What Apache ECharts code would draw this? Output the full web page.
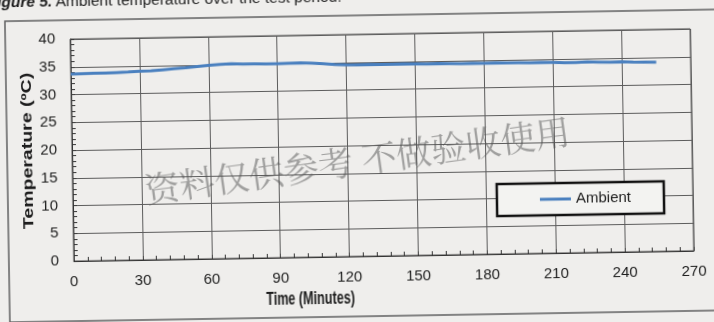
<!DOCTYPE html>
<html>
<head>
<meta charset="utf-8">
<script src="https://cdn.jsdelivr.net/npm/echarts@6/dist/echarts.min.js"></script>
<style>
  html, body { margin: 0; padding: 0; width: 714px; height: 322px; overflow: hidden; background: #efeeec; }
  /* canvas is a bit larger than the window so the tilted page edges stay filled */
  #chart { position: absolute; left: -20px; top: -20px; width: 754px; height: 362px;
           transform-origin: 402px 165px; transform: rotate(-0.95deg); }
</style>
</head>
<body>
<div id="chart"></div>
<script>
// Ambient temperature log, one reading every 5 minutes
const minutes = [
  0, 5, 10, 15, 20, 25, 30, 35, 40, 45, 50, 55, 60, 65, 70, 75, 80, 85, 90, 95,
  100, 105, 110, 115, 120, 125, 130, 135, 140, 145, 150, 155, 160, 165, 170, 175,
  180, 185, 190, 195, 200, 205, 210, 215, 220, 225, 230, 235, 240, 245, 250, 255
];
const ambient = [
  33.7, 33.75, 33.8, 33.8, 33.85, 33.9, 34.0, 34.05, 34.2, 34.35, 34.5, 34.7, 34.85, 35.0, 35.1, 35.0, 35.0, 34.95, 34.95, 35.0,
  35.05, 34.95, 34.8, 34.65, 34.55, 34.5, 34.55, 34.5, 34.5, 34.55, 34.5, 34.45, 34.5, 34.45, 34.4, 34.45,
  34.4, 34.45, 34.4, 34.4, 34.35, 34.4, 34.35, 34.3, 34.3, 34.35, 34.3, 34.25, 34.3, 34.2, 34.15, 34.1
];
const xTicks = [0, 30, 60, 90, 120, 150, 180, 210, 240, 270];
const yTicks = [0, 5, 10, 15, 20, 25, 30, 35, 40];

const seriesName = 'Ambient';
const xTitle = 'Time (Minutes)';
const yTitle = 'Temperature (ºC)';
const caption = ['Figure 5.', 'Ambient temperature over the test period.'];
const stamp = '资料仅供参考 不做验收使用';

const sans = "'Liberation Sans', Arial, Helvetica, sans-serif";
const ink = '#1c1c1c';
const gridInk = '#5c5c5c';
const axisInk = '#333333';
const lineBlue = '#4a80bf';

const chart = echarts.init(document.getElementById('chart'), null, { renderer: 'canvas' });

chart.setOption({
  backgroundColor: '#efeeec',
  animation: false,
  grid: {
    left: 92, top: 54, width: 620, height: 222,
    show: true, borderColor: '#444444', borderWidth: 1, backgroundColor: 'transparent'
  },
  xAxis: {
    type: 'value',
    min: xTicks[0], max: xTicks[xTicks.length - 1], interval: xTicks[1] - xTicks[0],
    axisLine: { show: true, lineStyle: { color: axisInk, width: 1 } },
    axisTick: { show: true, inside: true, length: 4, lineStyle: { color: axisInk } },
    minorTick: { show: true, splitNumber: 5, length: 4, lineStyle: { color: axisInk } },
    splitLine: { show: true, lineStyle: { color: gridInk, width: 1 } },
    axisLabel: { margin: 13, fontFamily: sans, fontSize: 15, color: ink }
  },
  yAxis: {
    type: 'value',
    min: yTicks[0], max: yTicks[yTicks.length - 1], interval: yTicks[1] - yTicks[0],
    axisLine: { show: true, lineStyle: { color: axisInk, width: 1 } },
    axisTick: { show: true, inside: true, length: 4, lineStyle: { color: axisInk } },
    minorTick: { show: true, splitNumber: 5, length: 4, lineStyle: { color: axisInk } },
    splitLine: { show: true, lineStyle: { color: gridInk, width: 1 } },
    axisLabel: { margin: 15, fontFamily: sans, fontSize: 15, color: ink }
  },
  legend: {
    data: [seriesName],
    left: 516, top: 206,
    orient: 'horizontal',
    icon: 'rect', itemWidth: 31, itemHeight: 3,
    padding: [7, 33, 7, 43],
    backgroundColor: '#f3f3f1',
    borderColor: '#111111', borderWidth: 2.5,
    textStyle: { fontFamily: sans, fontSize: 15, color: ink, lineHeight: 18 }
  },
  series: [{
    name: seriesName,
    type: 'line',
    data: minutes.map((m, i) => [m, ambient[i]]),
    showSymbol: false,
    symbol: 'none',
    lineStyle: { color: lineBlue, width: 3 },
    itemStyle: { color: lineBlue },
    z: 3
  }],
  graphic: [
    {
      type: 'rect', z: -1, silent: true,
      shape: { x: 27, y: 35, width: 760, height: 301 },
      style: { fill: 'none', stroke: '#606060', lineWidth: 1.5 }
    },
    {
      type: 'text', x: 10, y: 17, silent: true,
      style: {
        text: '{b|' + caption[0] + '} {r|' + caption[1] + '}',
        verticalAlign: 'middle', align: 'left',
        rich: {
          b: { fontFamily: sans, fontSize: 15.5, fontWeight: 'bold', fontStyle: 'italic', fill: ink },
          r: { fontFamily: sans, fontSize: 15.5, fill: ink }
        }
      }
    },
    {
      type: 'text', x: 328, y: 318, scaleX: 0.7, silent: true,
      style: {
        text: xTitle, align: 'center', verticalAlign: 'middle',
        fontFamily: sans, fontSize: 18, fontWeight: 'bold', fill: ink
      }
    },
    {
      type: 'text', x: 48, y: 165, rotation: Math.PI / 2, scaleY: 0.76, silent: true,
      style: {
        text: yTitle, align: 'center', verticalAlign: 'middle',
        fontFamily: sans, fontSize: 19.5, fontWeight: 'bold', fill: ink
      }
    },
    {
      type: 'text', x: 377, y: 180, rotation: 7 * Math.PI / 180, silent: true, z: 10,
      style: {
        text: stamp, align: 'center', verticalAlign: 'middle',
        fontFamily: "'Noto Serif CJK SC', 'Noto Sans CJK SC', sans-serif", fontSize: 35,
        fill: 'rgba(80, 80, 80, 0.5)'
      }
    }
  ]
});
</script>
</body>
</html>
